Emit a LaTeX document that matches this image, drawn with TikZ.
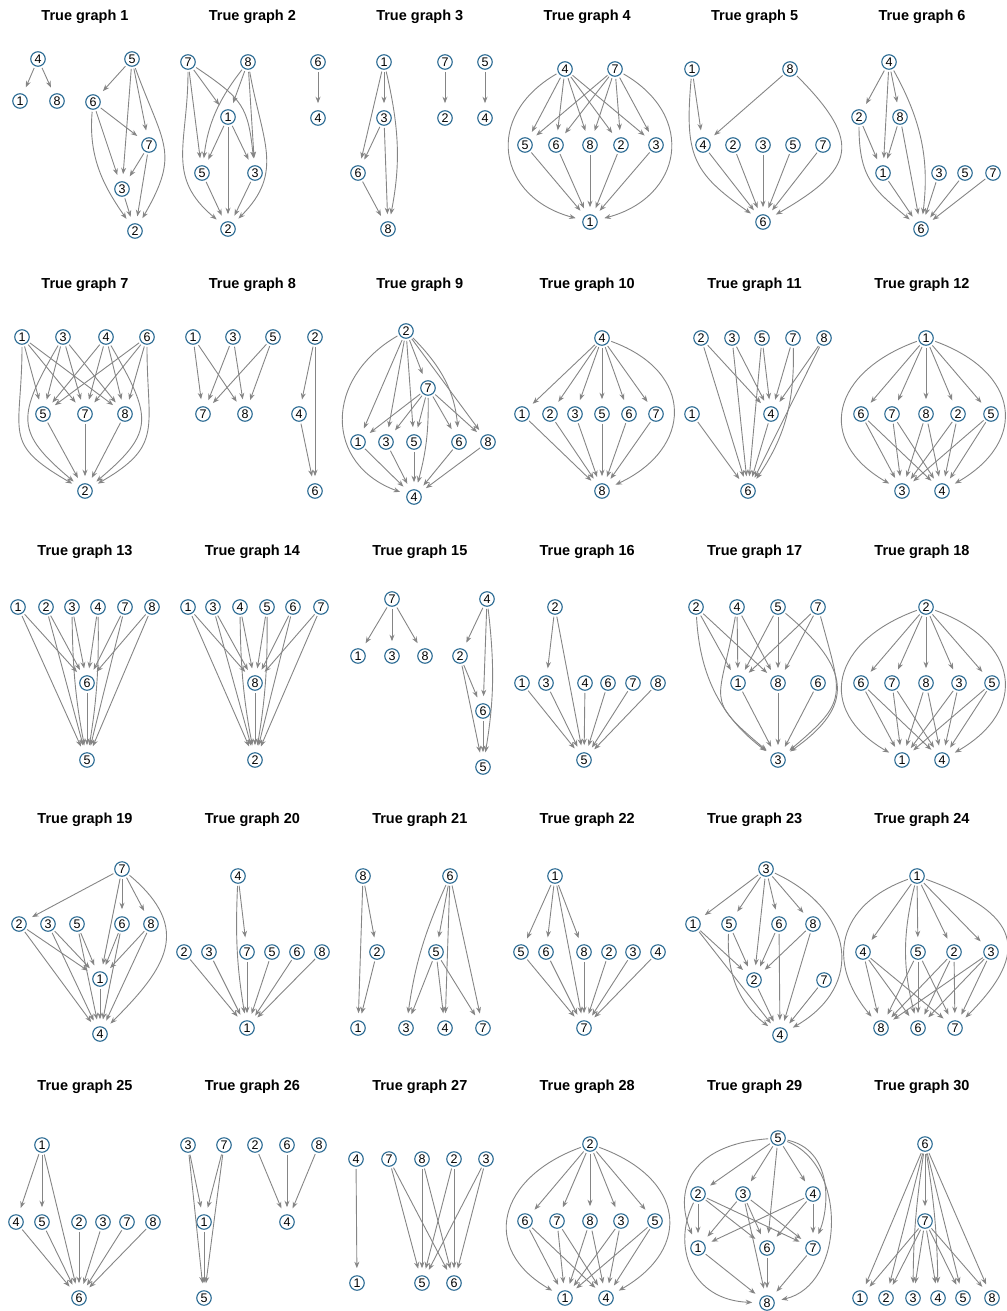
\documentclass[tikz,border=0pt]{standalone}
\usepackage{fontspec}
\setmainfont{Liberation Sans}
\usetikzlibrary{arrows.meta}
\definecolor{nodeBlue}{HTML}{2A6A93}
\definecolor{edgeGray}{HTML}{858585}

\begin{document}
\begin{tikzpicture}[
    x=1pt, y=1pt,
    vtx/.style={circle, draw=nodeBlue, line width=1.1pt, fill=white, minimum size=14.5pt,
                inner sep=0pt, font=\fontsize{12.5}{12.5}\selectfont},
    link/.style={-{Stealth[length=6.5pt, width=5pt]}, color=edgeGray, line width=0.9pt,
                 shorten <=2pt, shorten >=7pt},
    gtitle/.style={font=\fontsize{14.5}{14.5}\selectfont\bfseries},
]
\useasboundingbox (0,0) rectangle (1006,-1311);

% Titles
\foreach \i in {1,...,30} {
  \pgfmathtruncatemacro{\col}{mod(\i-1,6)}
  \pgfmathtruncatemacro{\row}{(\i-1)/6}
  \node[gtitle] (t\i) at ({85+167.4*\col},{-17-267.5*\row}) {True graph \i};
}

% True graph 1
\foreach \n/\x/\y in {4/38/59, 1/20/101, 8/57/101, 5/132/59, 6/93/102, 7/149/145, 3/122/189, 2/135/231}
  \node[vtx] (g1-\n) at (\x,-\y) {\n};
\foreach \a/\b in {4/1, 4/8, 5/6, 5/3, 5/7, 6/7, 6/3, 7/3, 7/2, 3/2}
  \draw[link] (g1-\a) -- (g1-\b);
\foreach \a/\b/\oa/\ia/\la in {5/2/-70/60/1.35, 6/2/-95/125/1}
  \draw[link] (g1-\a) to[out=\oa, in=\ia, looseness=\la] (g1-\b);

% True graph 2
\foreach \n/\x/\y in {7/188/62, 8/248/62, 1/228/117, 5/202/173, 3/255/173, 2/228/229, 6/318/62, 4/318/118}
  \node[vtx] (g2-\n) at (\x,-\y) {\n};
\foreach \a/\b in {7/5, 7/1, 8/1, 8/3, 1/5, 1/3, 1/2, 5/2, 3/2, 6/4}
  \draw[link] (g2-\a) -- (g2-\b);
\foreach \a/\b/\oa/\ia/\la in {7/3/-34/96/1.3, 8/5/-128/83/1, 7/2/-90/140/1.2, 8/2/-80/45/1.2}
  \draw[link] (g2-\a) to[out=\oa, in=\ia, looseness=\la] (g2-\b);

% True graph 3
\foreach \n/\x/\y in {1/384/62, 3/384/118, 6/358/173, 8/388/229, 7/445/62, 2/445/118, 5/485/62, 4/485/118}
  \node[vtx] (g3-\n) at (\x,-\y) {\n};
\foreach \a/\b in {1/3, 1/6, 3/6, 3/8, 6/8, 7/2, 5/4}
  \draw[link] (g3-\a) -- (g3-\b);
\draw[link] (g3-1) to[out=-77, in=79] (g3-8);

% True graph 4
\foreach \n/\x/\y in {4/565/69, 7/615/69, 5/525/145, 6/556/145, 8/590/145, 2/621/145, 3/656/145, 1/590/222}
  \node[vtx] (g4-\n) at (\x,-\y) {\n};
\foreach \a/\b in {4/5, 4/6, 4/8, 4/2, 4/3, 7/5, 7/6, 7/8, 7/2, 7/3, 5/1, 6/1, 8/1, 2/1, 3/1}
  \draw[link] (g4-\a) -- (g4-\b);
\foreach \a/\b/\oa/\ia/\la in {4/1/210/165/1.5, 7/1/-30/15/1.5}
  \draw[link] (g4-\a) to[out=\oa, in=\ia, looseness=\la] (g4-\b);

% True graph 5
\foreach \n/\x/\y in {1/692/69, 8/790/69, 4/703/145, 2/733/145, 3/763/145, 5/793/145, 7/823/145, 6/763/222}
  \node[vtx] (g5-\n) at (\x,-\y) {\n};
\foreach \a/\b in {1/4, 8/4, 4/6, 2/6, 3/6, 5/6, 7/6}
  \draw[link] (g5-\a) -- (g5-\b);
\foreach \a/\b/\oa/\ia/\la in {1/6/-95/145/1.3, 8/6/-45/30/1.7}
  \draw[link] (g5-\a) to[out=\oa, in=\ia, looseness=\la] (g5-\b);

% True graph 6
\foreach \n/\x/\y in {4/889/62, 2/859/117, 8/900/117, 1/883/173, 3/939/173, 5/965/173, 7/993/173, 6/921/229}
  \node[vtx] (g6-\n) at (\x,-\y) {\n};
\foreach \a/\b in {4/2, 4/1, 4/8, 2/1, 8/1, 8/6, 1/6, 3/6, 5/6, 7/6}
  \draw[link] (g6-\a) -- (g6-\b);
\foreach \a/\b/\oa/\ia/\la in {4/6/-61/83/1, 2/6/-90/140/1.2}
  \draw[link] (g6-\a) to[out=\oa, in=\ia, looseness=\la] (g6-\b);

% True graph 7
\foreach \n/\x/\y in {1/22/337, 3/63/337, 4/106/337, 6/147/337, 5/43/414, 7/85/414, 8/125/414, 2/85/491}
  \node[vtx] (g7-\n) at (\x,-\y) {\n};
\foreach \a/\b in {1/5, 1/7, 1/8, 3/5, 3/7, 3/8, 4/5, 4/7, 4/8, 6/5, 6/7, 6/8, 5/2, 7/2, 8/2}
  \draw[link] (g7-\a) -- (g7-\b);
\foreach \a/\b/\oa/\ia/\la in {1/2/270/150/1.5, 3/2/240/140/1.5, 4/2/300/40/1.5, 6/2/270/30/1.4}
  \draw[link] (g7-\a) to[out=\oa, in=\ia, looseness=\la] (g7-\b);

% True graph 8
\foreach \n/\x/\y in {1/193/337, 3/233/337, 5/273/337, 7/203/414, 8/245/414, 2/315/337, 4/299/414, 6/315/491}
  \node[vtx] (g8-\n) at (\x,-\y) {\n};
\foreach \a/\b in {1/7, 1/8, 3/7, 3/8, 5/7, 5/8, 2/4, 2/6, 4/6}
  \draw[link] (g8-\a) -- (g8-\b);

% True graph 9
\foreach \n/\x/\y in {2/406/331, 7/428/388, 1/358/442, 3/386/442, 5/414/442, 6/459/442, 8/488/442, 4/414/497}
  \node[vtx] (g9-\n) at (\x,-\y) {\n};
\foreach \a/\b in {2/1, 2/3, 2/5, 2/7, 2/8, 7/1, 7/3, 7/5, 7/6, 7/8, 1/4, 3/4, 5/4, 6/4, 8/4}
  \draw[link] (g9-\a) -- (g9-\b);
\foreach \a/\b/\oa/\ia/\la in {2/4/210/160/1.4, 2/6/-45/95/1, 7/4/-89/75/1}
  \draw[link] (g9-\a) to[out=\oa, in=\ia, looseness=\la] (g9-\b);

% True graph 10
\foreach \n/\x/\y in {4/602/338, 1/522/414, 2/550/414, 3/575/414, 5/602/414, 6/629/414, 7/656/414, 8/602/491}
  \node[vtx] (g10-\n) at (\x,-\y) {\n};
\foreach \a/\b in {4/1, 4/2, 4/3, 4/5, 4/6, 4/7, 1/8, 2/8, 3/8, 5/8, 6/8, 7/8}
  \draw[link] (g10-\a) -- (g10-\b);
\draw[link] (g10-4) to[out=-20, in=25, looseness=1.6] (g10-8);

% True graph 11
\foreach \n/\x/\y in {2/701/338, 3/732/338, 5/762/338, 7/793/338, 8/824/338, 1/692/414, 4/771/414, 6/748/491}
  \node[vtx] (g11-\n) at (\x,-\y) {\n};
\foreach \a/\b in {2/4, 2/6, 3/4, 3/6, 5/4, 5/6, 7/4, 8/4, 8/6, 1/6, 4/6}
  \draw[link] (g11-\a) -- (g11-\b);
\draw[link] (g11-7) to[bend left=18] (g11-6);

% True graph 12
\foreach \n/\x/\y in {1/926/338, 6/861/414, 7/892/414, 8/926/414, 2/958/414, 5/991/414, 3/902/491, 4/942/491}
  \node[vtx] (g12-\n) at (\x,-\y) {\n};
\foreach \a/\b in {1/6, 1/7, 1/8, 1/2, 1/5, 6/3, 6/4, 7/3, 7/4, 8/3, 8/4, 2/3, 2/4, 5/3, 5/4}
  \draw[link] (g12-\a) -- (g12-\b);
\foreach \a/\b/\oa/\ia/\la in {1/3/200/150/1.6, 1/4/-20/30/1.6}
  \draw[link] (g12-\a) to[out=\oa, in=\ia, looseness=\la] (g12-\b);

% True graph 13
\foreach \n/\x/\y in {1/18/607, 2/46/607, 3/72/607, 4/98/607, 7/125/607, 8/152/607, 6/87/683, 5/87/760}
  \node[vtx] (g13-\n) at (\x,-\y) {\n};
\foreach \a/\b in {1/6, 2/6, 3/6, 4/6, 7/6, 8/6, 1/5, 2/5, 7/5, 8/5, 6/5}
  \draw[link] (g13-\a) -- (g13-\b);
\draw[link] (g13-3) to[bend right=5] (g13-5);
\draw[link] (g13-4) to[bend left=5] (g13-5);

% True graph 14
\foreach \n/\x/\y in {1/188/607, 3/213/607, 4/240/607, 5/267/607, 6/293/607, 7/321/607, 8/255/683, 2/255/760}
  \node[vtx] (g14-\n) at (\x,-\y) {\n};
\foreach \a/\b in {1/8, 3/8, 4/8, 5/8, 6/8, 7/8, 1/2, 3/2, 6/2, 7/2, 8/2}
  \draw[link] (g14-\a) -- (g14-\b);
\draw[link] (g14-4) to[bend right=5] (g14-2);
\draw[link] (g14-5) to[bend left=5] (g14-2);

% True graph 15
\foreach \n/\x/\y in {7/392/599, 1/358/656, 3/392/656, 8/425/656, 4/487/599, 2/460/656, 6/483/711, 5/483/767}
  \node[vtx] (g15-\n) at (\x,-\y) {\n};
\foreach \a/\b in {7/1, 7/3, 7/8, 4/2, 4/6, 2/6, 2/5, 6/5}
  \draw[link] (g15-\a) -- (g15-\b);
\draw[link] (g15-4) to[bend left=8] (g15-5);

% True graph 16
\foreach \n/\x/\y in {2/555/607, 1/522/683, 3/546/683, 4/585/683, 6/608/683, 7/633/683, 8/658/683, 5/584/760}
  \node[vtx] (g16-\n) at (\x,-\y) {\n};
\foreach \a/\b in {2/3, 2/5, 1/5, 3/5, 4/5, 6/5, 7/5, 8/5}
  \draw[link] (g16-\a) -- (g16-\b);

% True graph 17
\foreach \n/\x/\y in {2/696/607, 4/737/607, 5/778/607, 7/818/607, 1/738/683, 8/778/683, 6/818/683, 3/778/760}
  \node[vtx] (g17-\n) at (\x,-\y) {\n};
\foreach \a/\b in {2/1, 2/8, 4/1, 4/8, 5/1, 5/8, 7/1, 7/8, 1/3, 8/3, 6/3}
  \draw[link] (g17-\a) -- (g17-\b);
\foreach \a/\b/\oa/\ia/\la in {2/3/-87/143/1, 4/3/260/140/1.6, 5/3/-40/35/1.55, 7/3/-75/40/1.5}
  \draw[link] (g17-\a) to[out=\oa, in=\ia, looseness=\la] (g17-\b);

% True graph 18
\foreach \n/\x/\y in {2/926/607, 6/861/683, 7/892/683, 8/926/683, 3/959/683, 5/992/683, 1/902/760, 4/942/760}
  \node[vtx] (g18-\n) at (\x,-\y) {\n};
\foreach \a/\b in {2/6, 2/7, 2/8, 2/3, 2/5, 6/1, 6/4, 7/1, 7/4, 8/1, 8/4, 3/1, 3/4, 5/1, 5/4}
  \draw[link] (g18-\a) -- (g18-\b);
\foreach \a/\b/\oa/\ia/\la in {2/1/200/150/1.6, 2/4/-20/30/1.6}
  \draw[link] (g18-\a) to[out=\oa, in=\ia, looseness=\la] (g18-\b);

% True graph 19
\foreach \n/\x/\y in {7/122/869, 2/19/924, 3/48/924, 5/77/924, 6/122/924, 8/151/924, 1/100/979, 4/100/1034}
  \node[vtx] (g19-\n) at (\x,-\y) {\n};
\foreach \a/\b in {7/2, 7/6, 7/8, 7/1, 2/1, 2/4, 3/1, 3/4, 5/1, 5/4, 6/1, 6/4, 8/1, 8/4, 1/4}
  \draw[link] (g19-\a) -- (g19-\b);
\draw[link] (g19-7) to[out=-40, in=45, looseness=1.4] (g19-4);

% True graph 20
\foreach \n/\x/\y in {4/238/876, 2/184/952, 3/209/952, 7/247/952, 5/272/952, 6/297/952, 8/322/952, 1/247/1028}
  \node[vtx] (g20-\n) at (\x,-\y) {\n};
\foreach \a/\b in {4/7, 2/1, 3/1, 7/1, 5/1, 6/1, 8/1}
  \draw[link] (g20-\a) -- (g20-\b);
\draw[link] (g20-4) to[bend right=6] (g20-1);

% True graph 21
\foreach \n/\x/\y in {8/363/876, 2/377/952, 1/358/1028, 6/450/876, 5/436/952, 3/406/1028, 4/445/1028, 7/483/1028}
  \node[vtx] (g21-\n) at (\x,-\y) {\n};
\foreach \a/\b in {8/2, 8/1, 2/1, 6/5, 6/4, 6/7, 5/3, 5/4, 5/7}
  \draw[link] (g21-\a) -- (g21-\b);
\draw[link] (g21-6) to[bend right=8] (g21-3);

% True graph 22
\foreach \n/\x/\y in {1/555/876, 5/521/952, 6/546/952, 8/584/952, 2/609/952, 3/633/952, 4/658/952, 7/584/1028}
  \node[vtx] (g22-\n) at (\x,-\y) {\n};
\foreach \a/\b in {1/5, 1/6, 1/8, 1/7, 5/7, 6/7, 8/7, 2/7, 3/7, 4/7}
  \draw[link] (g22-\a) -- (g22-\b);

% True graph 23
\foreach \n/\x/\y in {3/766/869, 1/693/924, 5/729/924, 6/779/924, 8/813/924, 2/754/980, 7/824/980, 4/780/1035}
  \node[vtx] (g23-\n) at (\x,-\y) {\n};
\foreach \a/\b in {3/1, 3/5, 3/6, 3/8, 3/2, 1/2, 1/4, 5/2, 6/2, 6/4, 8/2, 8/4, 2/4, 7/4}
  \draw[link] (g23-\a) -- (g23-\b);
\foreach \a/\b/\oa/\ia/\la in {5/4/-93/143/1, 3/4/-25/30/1.45}
  \draw[link] (g23-\a) to[out=\oa, in=\ia, looseness=\la] (g23-\b);

% True graph 24
\foreach \n/\x/\y in {1/917/876, 4/863/952, 5/918/952, 2/954/952, 3/991/952, 8/881/1028, 6/918/1028, 7/955/1028}
  \node[vtx] (g24-\n) at (\x,-\y) {\n};
\foreach \a/\b in {1/4, 1/5, 1/2, 1/3, 4/8, 4/6, 4/7, 5/8, 5/6, 5/7, 2/8, 2/6, 2/7, 3/8, 3/6, 3/7}
  \draw[link] (g24-\a) -- (g24-\b);
\foreach \a/\b/\oa/\ia/\la in {1/8/200/130/1.35, 1/6/-104/104/1, 1/7/-20/45/1.75}
  \draw[link] (g24-\a) to[out=\oa, in=\ia, looseness=\la] (g24-\b);

% True graph 25
\foreach \n/\x/\y in {1/42/1145, 4/16/1222, 5/42/1222, 2/79/1222, 3/103/1222, 7/127/1222, 8/153/1222, 6/79/1298}
  \node[vtx] (g25-\n) at (\x,-\y) {\n};
\foreach \a/\b in {1/4, 1/5, 1/6, 4/6, 5/6, 2/6, 3/6, 7/6, 8/6}
  \draw[link] (g25-\a) -- (g25-\b);

% True graph 26
\foreach \n/\x/\y in {3/188/1145, 7/224/1145, 1/204/1222, 5/204/1298, 2/255/1145, 6/287/1145, 8/319/1145, 4/287/1222}
  \node[vtx] (g26-\n) at (\x,-\y) {\n};
\foreach \a/\b in {3/1, 3/5, 7/1, 7/5, 1/5, 2/4, 6/4, 8/4}
  \draw[link] (g26-\a) -- (g26-\b);

% True graph 27
\foreach \n/\x/\y in {4/356/1159, 1/357/1283, 7/389/1159, 8/422/1159, 2/454/1159, 3/486/1159, 5/422/1283, 6/454/1283}
  \node[vtx] (g27-\n) at (\x,-\y) {\n};
\foreach \a/\b in {4/1, 7/5, 7/6, 8/5, 8/6, 2/5, 2/6, 3/5, 3/6}
  \draw[link] (g27-\a) -- (g27-\b);

% True graph 28
\foreach \n/\x/\y in {2/590/1144, 6/525/1221, 7/557/1221, 8/590/1221, 3/621/1221, 5/655/1221, 1/565/1298, 4/606/1298}
  \node[vtx] (g28-\n) at (\x,-\y) {\n};
\foreach \a/\b in {2/6, 2/7, 2/8, 2/3, 2/5, 6/1, 6/4, 7/1, 7/4, 8/1, 8/4, 3/1, 3/4, 5/1, 5/4}
  \draw[link] (g28-\a) -- (g28-\b);
\foreach \a/\b/\oa/\ia/\la in {2/1/200/150/1.55, 2/4/-20/30/1.6}
  \draw[link] (g28-\a) to[out=\oa, in=\ia, looseness=\la] (g28-\b);

% True graph 29
\foreach \n/\x/\y in {5/778/1138, 2/698/1194, 3/743/1194, 4/813/1194, 1/698/1248, 6/767/1248, 7/813/1248, 8/767/1303}
  \node[vtx] (g29-\n) at (\x,-\y) {\n};
\foreach \a/\b in {5/2, 5/3, 5/4, 5/6, 2/1, 2/6, 2/7, 3/1, 3/6, 3/7, 3/8, 4/1, 4/6, 4/7, 1/8, 6/8, 7/8}
  \draw[link] (g29-\a) -- (g29-\b);
\draw[link] (g29-5) .. controls (685,-1145) and (675,-1195) .. (g29-1);
\draw[link] (g29-2) .. controls (672,-1245) and (690,-1300) .. (g29-8);
\draw[link] (g29-5) .. controls (832,-1150) and (830,-1205) .. (g29-7);
\draw[link] (g29-5) .. controls (848,-1165) and (845,-1285) .. (g29-8);

% True graph 30
\foreach \n/\x/\y in {6/925/1144, 7/925/1221, 1/860/1298, 2/886/1298, 3/913/1298, 4/938/1298, 5/963/1298, 8/992/1298}
  \node[vtx] (g30-\n) at (\x,-\y) {\n};
\foreach \a/\b in {6/7, 6/1, 6/2, 6/5, 6/8, 7/1, 7/2, 7/3, 7/4, 7/5, 7/8}
  \draw[link] (g30-\a) -- (g30-\b);
\draw[link] (g30-6) to[bend right=4] (g30-3);
\draw[link] (g30-6) to[bend left=4] (g30-4);

\end{tikzpicture}
\end{document}
